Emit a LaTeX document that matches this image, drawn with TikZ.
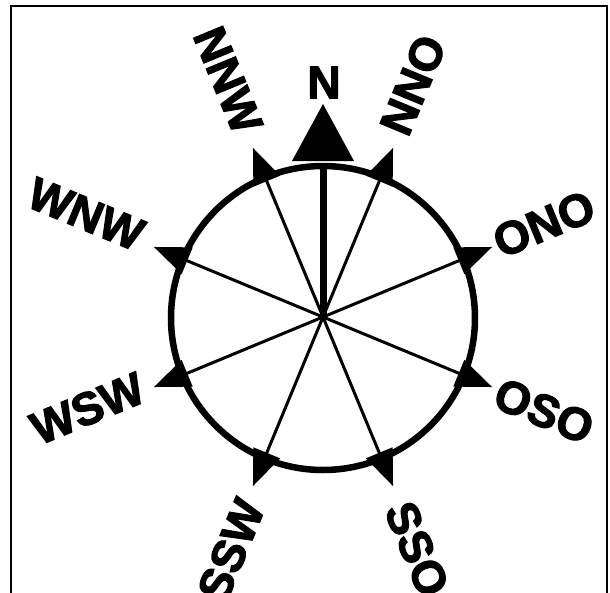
\documentclass[tikz,border=0pt]{standalone}
\usepackage{fontspec}
\setmainfont{Liberation Sans}
\newfontfamily\labfont{Liberation Sans}[BoldFeatures={FakeBold=2.5}]
\begin{document}
\begin{tikzpicture}[x=1pt,y=1pt,
  lab/.style={font=\labfont\bfseries\fontsize{46}{46}\selectfont, inner sep=0pt},
  ring/.style={line width=6.5pt},
  spoke/.style={line width=3pt},
  nspoke/.style={line width=7pt},
  tri/.style={fill=black},
  frame/.style={line width=2pt}]
\useasboundingbox (-323,-275) rectangle (287,317);
\fill[white] (-323,-275) rectangle (287,317);
% frame
\draw[frame] (-312,-280) -- (-312,311) -- (284,311) -- (284,-280);
% hub and ring
\coordinate (hub) at (0,0);
\coordinate (rc) at (0,-1);
\draw[ring] (rc) circle[radius=152];
% spokes
\foreach \a/\n in {22.5/ono,67.5/nno,112.5/nnw,157.5/wnw,202.5/wsw,247.5/ssw,292.5/sso,337.5/oso}{
  \coordinate (e\n) at (\a:151);
  \draw[spoke] (hub) -- (e\n);
  \begin{scope}[rotate=\a]
    \fill[tri] (183,0) -- (147,14.5) -- (147,-14.5) -- cycle;
  \end{scope}
}
% north
\coordinate (en) at (0,152);
\draw[nspoke] (hub) -- (en);
\fill[tri] (0,213) -- (-31,156) -- (31,156) -- cycle;
% labels
\node[lab] (N) at (1,234.5) {N};
\node[lab, rotate=-67.5] (NNW) at (-95,237) {NNW};
\node[lab, rotate=67.5] (NNO) at (90,232) {NNO};
\node[lab, rotate=22.5] (ONO) at (221,93) {ONO};
\node[lab, rotate=-22.5] (OSO) at (221,-94) {OSO};
\node[lab, rotate=-67.5] (SSO) at (94,-232) {SSO};
\node[lab, rotate=67.5] (SSW) at (-92,-233) {SSW};
\node[lab, rotate=22.5] (WSW) at (-235.5,-91.5) {WSW};
\node[lab, rotate=-22.5] (WNW) at (-237,103) {WNW};
\end{tikzpicture}
\end{document}
